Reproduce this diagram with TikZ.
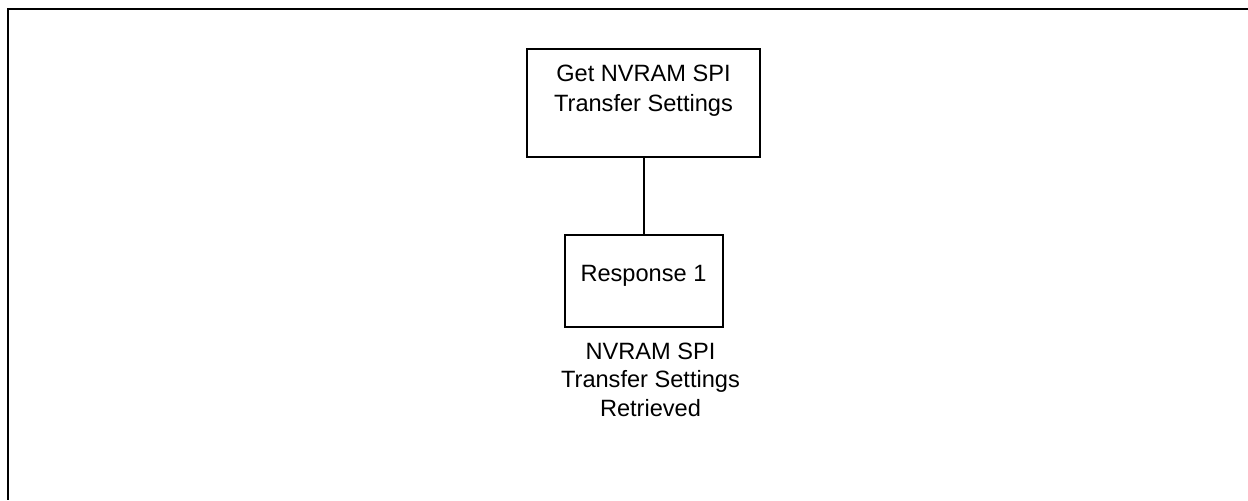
\documentclass[tikz,border=0pt]{standalone}
\usepackage{fontspec}
\setmainfont{Liberation Sans}
\usetikzlibrary{positioning}

\begin{document}
\begin{tikzpicture}[x=0.5pt, y=-0.5pt, line width=1pt, font=\fontsize{11.8}{15}\selectfont,
  box/.style={rectangle, draw, align=center, inner sep=0pt},
  note/.style={align=center, inner sep=0pt, text height=37.6pt, font=\fontsize{11.8}{14.3}\selectfont}]

\tikzstyle{level 1}=[level distance=89pt]

\useasboundingbox (0,0) rectangle (1248,500);
\draw[line width=1.4pt] (1248,9) -- (8,9) -- (8,500);

\node[box, minimum width=116.5pt, text height=31pt, text depth=23pt] (getsettings) at (643.5,103) {Get NVRAM SPI\\Transfer Settings}
   child{node[box, minimum width=79pt, text height=23pt, text depth=23pt] (response) {Response 1}};

\node[note, below=6pt of response, xshift=3.5pt] (retrieved) {NVRAM SPI\\Transfer Settings\\Retrieved};
\end{tikzpicture}
\end{document}
